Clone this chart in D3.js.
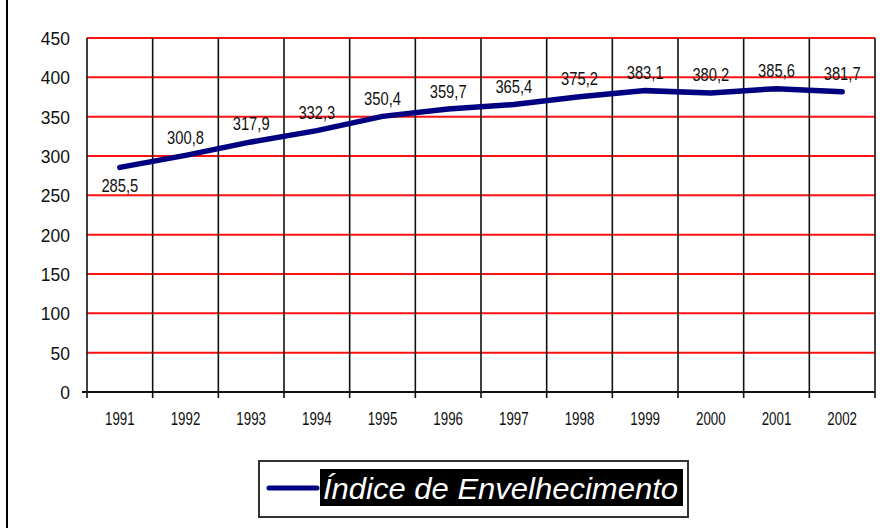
<!DOCTYPE html>
<html>
<head>
<meta charset="utf-8">
<script src="https://cdn.jsdelivr.net/npm/d3@7"></script>
<style>
  body { margin: 0; background: #fff; }
  svg { display: block; }
</style>
</head>
<body>
<svg class="chart" width="891" height="528"></svg>
<script>
var years = ["1991", "1992", "1993", "1994", "1995", "1996", "1997", "1998", "1999", "2000", "2001", "2002"];
var indice = [285.5, 300.8, 317.9, 332.3, 350.4, 359.7, 365.4, 375.2, 383.1, 380.2, 385.6, 381.7];
var yTicks = [0, 50, 100, 150, 200, 250, 300, 350, 400, 450];
var seriesName = "Índice de Envelhecimento";

var svg = d3.select(".chart"),
    margin = {top: 38, right: 16, bottom: 136, left: 87},
    width = svg.attr("width") - margin.left - margin.right,
    height = svg.attr("height") - margin.top - margin.bottom;

var x = d3.scaleBand().domain(years).range([0, width]),
    y = d3.scaleLinear().domain([0, 450]).range([height, 0]);

var fmt = function(v) { return v.toFixed(1).replace(".", ","); };
var cx = function(i) { return x(years[i]) + x.bandwidth() / 2; };
var font = "'Liberation Sans', Arial, sans-serif";

// left border line of the frame
svg.append("line")
    .attr("x1", 7).attr("x2", 7)
    .attr("y1", 0).attr("y2", 528)
    .attr("stroke", "#000").attr("stroke-width", 2);

var g = svg.append("g").attr("transform", "translate(" + margin.left + "," + margin.top + ")");

// red horizontal gridlines
g.append("g").selectAll("line")
  .data(yTicks.slice(1))
  .enter().append("line")
    .attr("x1", 0).attr("x2", width)
    .attr("y1", function(d) { return y(d); })
    .attr("y2", function(d) { return y(d); })
    .attr("stroke", "#ff1010").attr("stroke-width", 2);

// black vertical gridlines at category boundaries
var bounds = years.map(function(d) { return x(d); }).concat([width]);
g.append("g").selectAll("line")
  .data(bounds)
  .enter().append("line")
    .attr("x1", function(d) { return d; }).attr("x2", function(d) { return d; })
    .attr("y1", 0).attr("y2", height + 6)
    .attr("stroke", "#111").attr("stroke-width", 1.6);

// base line
g.append("line")
    .attr("x1", -5).attr("x2", width)
    .attr("y1", height).attr("y2", height)
    .attr("stroke", "#111").attr("stroke-width", 2);

// y tick labels
g.append("g").selectAll("text")
  .data(yTicks)
  .enter().append("text")
    .attr("transform", function(d) { return "translate(-17," + y(d) + ") scale(0.92,1)"; })
    .attr("dy", "0.36em")
    .attr("text-anchor", "end")
    .style("font", "19px " + font)
    .attr("fill", "#111")
    .text(function(d) { return d; });

// x tick labels
g.append("g").selectAll("text")
  .data(years)
  .enter().append("text")
    .attr("transform", function(d, i) { return "translate(" + cx(i) + "," + (height + 27) + ") scale(0.74,1)"; })
    .attr("dy", "0.36em")
    .attr("text-anchor", "middle")
    .style("font", "18px " + font)
    .attr("fill", "#111")
    .text(function(d) { return d; });

var line = d3.line()
    .x(function(d, i) { return cx(i); })
    .y(function(d) { return y(d); });

g.append("path")
    .datum(indice)
    .attr("d", line)
    .attr("fill", "none")
    .attr("stroke", "#000080")
    .attr("stroke-width", 5.5)
    .attr("stroke-linecap", "round");

// data labels
g.append("g").selectAll("text")
  .data(indice)
  .enter().append("text")
    .attr("transform", function(d, i) {
      return "translate(" + cx(i) + "," + (y(d) + (i === 0 ? 18 : -18)) + ") scale(0.82,1)";
    })
    .attr("dy", "0.36em")
    .attr("text-anchor", "middle")
    .style("font", "18px " + font)
    .attr("fill", "#111")
    .text(function(d) { return fmt(d); });

// legend
var lg = svg.append("g").attr("transform", "translate(259,461)");
lg.append("rect")
    .attr("width", 429).attr("height", 56)
    .attr("fill", "#fff").attr("stroke", "#333").attr("stroke-width", 2);
lg.append("line")
    .attr("x1", 10).attr("x2", 58)
    .attr("y1", 27).attr("y2", 27)
    .attr("stroke", "#000080").attr("stroke-width", 5)
    .attr("stroke-linecap", "round");
lg.append("rect")
    .attr("x", 61).attr("y", 8)
    .attr("width", 363).attr("height", 37)
    .attr("fill", "#000");
lg.append("text")
    .attr("x", 64).attr("y", 27)
    .attr("dy", "0.36em")
    .attr("textLength", 355)
    .attr("lengthAdjust", "spacingAndGlyphs")
    .style("font", "italic 30px " + font)
    .attr("fill", "#fff")
    .text(seriesName);
</script>
</body>
</html>
